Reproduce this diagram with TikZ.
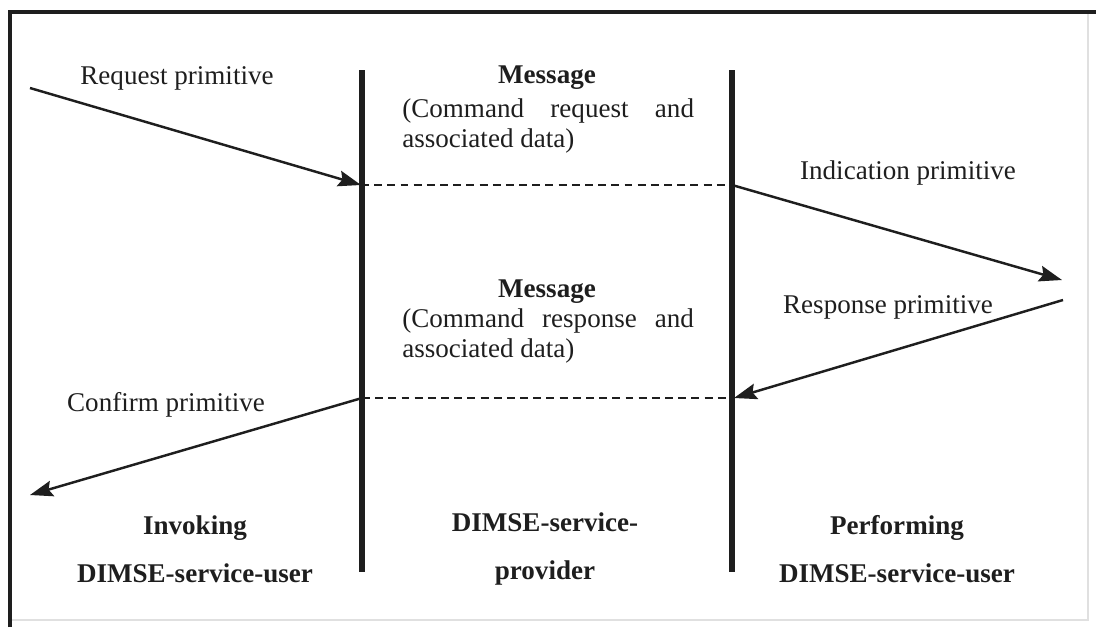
\documentclass[tikz,border=0pt]{standalone}
\usepackage{fontspec}
\setmainfont{Liberation Serif}
\usetikzlibrary{positioning,arrows.meta}

\definecolor{ink}{HTML}{1E1E1E}

\tikzset{
  frameline/.style={line width=2pt, ink},
  faintline/.style={line width=0.6pt, black!12},
  lifeline/.style={line width=3.1pt, ink},
  primarrow/.style={line width=1.4pt, ink, -{Stealth[length=13pt,width=9pt,inset=2pt]}},
  msgline/.style={line width=1pt, ink, dash pattern=on 4.5pt off 3pt},
  lbl/.style={font=\fontsize{15.4}{17.2}\selectfont, text=ink, inner sep=0pt},
  msghead/.style={lbl, font=\fontsize{15.4}{17.2}\selectfont\bfseries},
  msgbody/.style={lbl, text width=166pt, align=justify, anchor=north west},
  rolename/.style={lbl, align=center, font=\fontsize{15.4}{27.3}\selectfont\bfseries}
}

\begin{document}
\begin{tikzpicture}[x=0.02cm, y=-0.02cm]
  \useasboundingbox (0,0) rectangle (1096,627);

  % frame
  \draw[frameline] (10,627) -- (10,12) -- (1096,12);
  \draw[faintline] (1088,14) -- (1088,620) -- (12,620);

  % lifelines
  \coordinate (invTop) at (362,70);
  \coordinate (invBot) at (362,572);
  \coordinate (perTop) at (732,70);
  \coordinate (perBot) at (732,572);
  \draw[lifeline] (invTop) -- (invBot);
  \draw[lifeline] (perTop) -- (perBot);

  % end points of the primitives
  \coordinate (reqStart) at (30,88);
  \coordinate (reqEnd) at (361,185);
  \coordinate (indStart) at (732,185);
  \coordinate (indEnd) at (1062,280);
  \coordinate (rspStart) at (1063,300);
  \coordinate (rspEnd) at (734,398);
  \coordinate (cnfStart) at (362,398);
  \coordinate (cnfEnd) at (30,495);

  \draw[primarrow] (reqStart) -- (reqEnd);
  \draw[msgline] (reqEnd) -- (indStart);
  \draw[primarrow] (indStart) -- (indEnd);
  \draw[primarrow] (rspStart) -- (rspEnd);
  \draw[msgline] (cnfStart) -- (rspEnd);
  \draw[primarrow] (cnfStart) -- (cnfEnd);

  % primitive labels
  \node[lbl] (reqLabel) at (177,78) {Request primitive};
  \node[lbl] (indLabel) at (908,173) {Indication primitive};
  \node[lbl] (rspLabel) at (888,307) {Response primitive};
  \node[lbl] (cnfLabel) at (166,405) {Confirm primitive};

  % messages
  \node[msghead] (msgA) at (547,78) {Message};
  \node[msgbody] (cmdA) at (402,98) {(Command request and\linebreak associated data)};
  \node[msghead] (msgB) at (547,292) {Message};
  \node[msgbody] (cmdB) at (402,308) {(Command response and\linebreak associated data)};

  % roles
  \node[rolename] (invoker) at (195,549) {Invoking\\DIMSE-service-user};
  \node[rolename] (provider) at (545,549) {DIMSE-service-\\provider};
  \node[rolename] (performer) at (897,549) {Performing\\DIMSE-service-user};
\end{tikzpicture}
\end{document}
